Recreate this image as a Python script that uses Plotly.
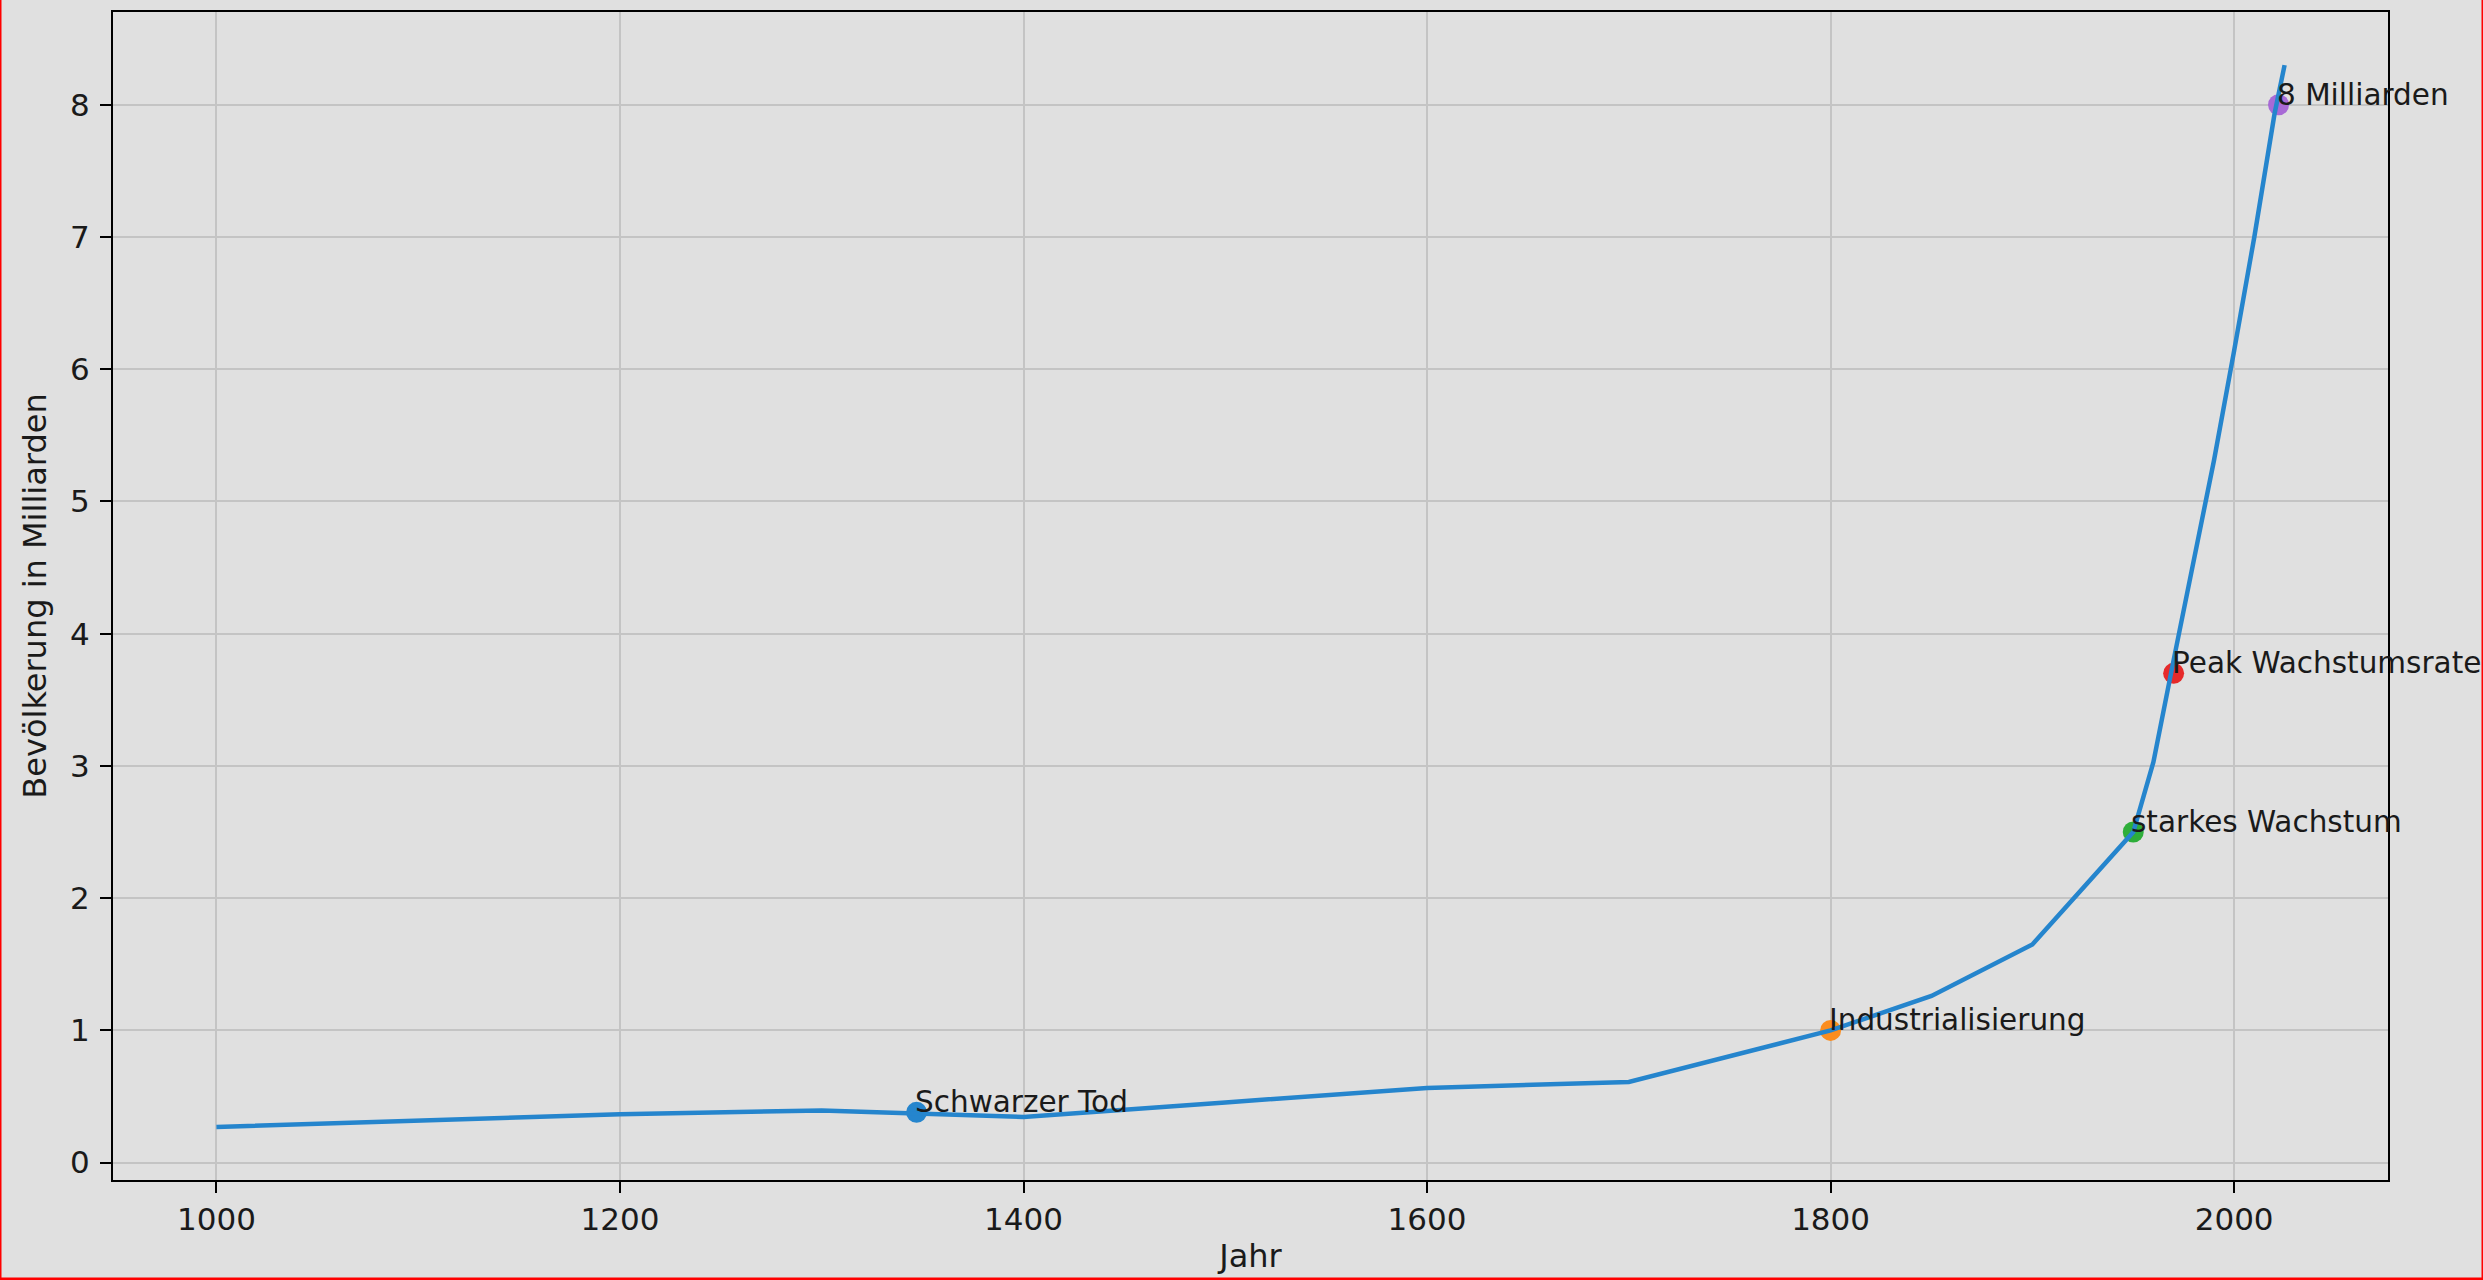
import plotly.graph_objects as go

# ---- data ----
years = [1000, 1200, 1300, 1400, 1500, 1600, 1700, 1800, 1850, 1900,
         1950, 1960, 1970, 1980, 1990, 2000, 2010, 2020, 2025]
population = [0.27, 0.365, 0.395, 0.345, 0.455, 0.565, 0.61, 1.0, 1.26, 1.65,
              2.5, 3.03, 3.8, 4.55, 5.31, 6.14, 7.0, 7.93, 8.3]

event_years = [1347, 1800, 1950, 1970, 2022]
event_population = [0.38, 1.0, 2.5, 3.7, 8.0]
event_labels = ["Schwarzer Tod", "Industrialisierung", "starkes Wachstum",
                "Peak Wachstumsrate", "8 Milliarden"]
event_colors = ["#2585cd", "#fb8d1f", "#2eae3a", "#e62a2a", "#a86ad6"]

x_ticks = [1000, 1200, 1400, 1600, 1800, 2000]
y_ticks = [0, 1, 2, 3, 4, 5, 6, 7, 8]

x_title = "Jahr"
y_title = "Bevölkerung in Milliarden"

# ---- layout constants ----
W, H = 2483, 1280
L, R, T, B = 113, 95, 12, 100
PW, PH = W - L - R, H - T - B
BG = "#e0e0e0"
FONT = "DejaVu Sans"
TXT = "#1a1a1a"

fig = go.Figure()

# markers first (line drawn on top, as in the reference)
for ex, ey, col in zip(event_years, event_population, event_colors):
    fig.add_trace(go.Scatter(
        x=[ex], y=[ey], mode="markers",
        marker=dict(color=col, size=21, line=dict(width=0)),
        showlegend=False, hoverinfo="skip"))

fig.add_trace(go.Scatter(
    x=years, y=population, mode="lines",
    line=dict(color="#2585cd", width=4.5),
    showlegend=False))

annotations = []
for ex, ey, lab in zip(event_years, event_population, event_labels):
    annotations.append(dict(
        x=ex, y=ey, xref="x", yref="y", text=lab, showarrow=False,
        xanchor="left", yanchor="bottom", yshift=-9, xshift=-4,
        font=dict(family=FONT, size=29.5, color=TXT)))

# x / y ranges with matplotlib-like 5% margins
xmin, xmax = min(years), max(years)
ymin, ymax = min(population), max(population)
xr = [xmin - 0.05 * (xmax - xmin), xmax + 0.05 * (xmax - xmin)]
yr = [ymin - 0.05 * (ymax - ymin), ymax + 0.05 * (ymax - ymin)]

axis_common = dict(
    showgrid=True, gridcolor="#c4c4c4", gridwidth=1.5,
    showline=True, linecolor="black", linewidth=2, mirror=True,
    ticks="outside", ticklen=11, tickwidth=2, tickcolor="black",
    tickfont=dict(family=FONT, size=31, color=TXT),
    zeroline=False, automargin=False,
)

fig.update_layout(
    width=W, height=H,
    margin=dict(l=L, r=R, t=T, b=B, pad=0),
    paper_bgcolor=BG, plot_bgcolor=BG,
    xaxis=dict(range=xr, tickvals=x_ticks, ticktext=[str(v) for v in x_ticks],
               title=dict(text=x_title, font=dict(family=FONT, size=32, color=TXT), standoff=8),
               **axis_common),
    yaxis=dict(range=yr, tickvals=y_ticks, ticktext=[str(v) for v in y_ticks],
               ticklabelstandoff=4,
               title=dict(text=y_title, font=dict(family=FONT, size=32, color=TXT), standoff=14),
               **axis_common),
    annotations=annotations,
    shapes=[
        dict(type="line", xref="paper", yref="paper",
             x0=-L / PW, x1=-L / PW, y0=-B / PH, y1=1 + T / PH,
             line=dict(color="red", width=3)),
        dict(type="line", xref="paper", yref="paper",
             x0=1 + R / PW, x1=1 + R / PW, y0=-B / PH, y1=1 + T / PH,
             line=dict(color="red", width=3)),
        dict(type="line", xref="paper", yref="paper",
             x0=-L / PW, x1=1 + R / PW, y0=-B / PH, y1=-B / PH,
             line=dict(color="red", width=5)),
    ],
    showlegend=False,
)

fig.write_html(
    "out.html",
    config={"displayModeBar": False},
    post_script="document.body.style.margin='0';document.body.style.background='#e0e0e0';",
)
